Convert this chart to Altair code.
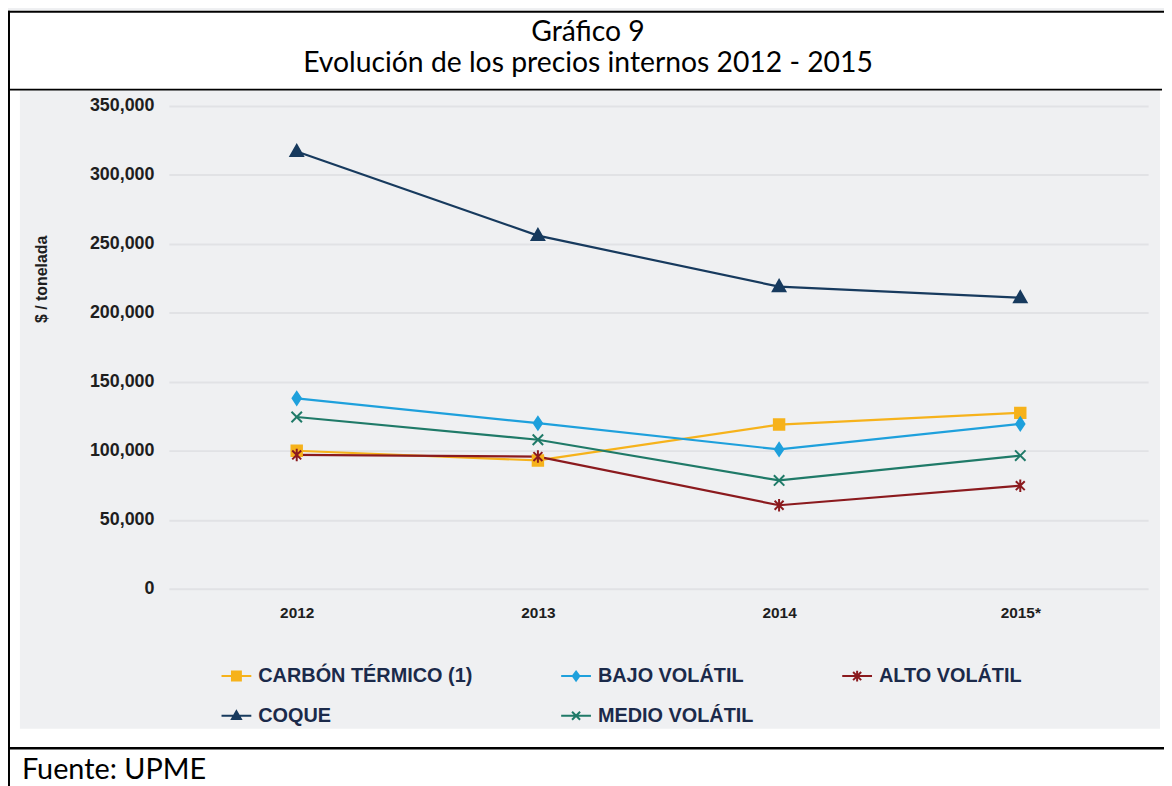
import altair as alt
import pandas as pd

# ---------------- data ----------------
years = ["2012", "2013", "2014", "2015*"]
series = ["CARBÓN TÉRMICO (1)", "BAJO VOLÁTIL", "ALTO VOLÁTIL", "COQUE", "MEDIO VOLÁTIL"]
carbon_termico = [100000, 93000, 119000, 127500]
bajo_volatil = [138000, 120000, 101000, 119500]
alto_volatil = [97000, 95800, 60500, 74700]
coque = [317000, 256000, 219000, 211000]
medio_volatil = [124500, 108000, 78500, 96500]
y_ticks = [0, 50000, 100000, 150000, 200000, 250000, 300000, 350000]

title_1 = "Gráfico 9"
title_2 = "Evolución de los precios internos 2012 - 2015"
source_text = "Fuente: UPME"
y_title = "$ / tonelada"

# ---------------- styles ----------------
colors = ["#f6b21b", "#1ea0dc", "#8b1a1e", "#173a5e", "#1f7a68"]
marker_paths = [
    "M-0.35,-0.35L0.35,-0.35L0.35,0.35L-0.35,0.35Z",          # square
    "M0,-0.42L0.28,0L0,0.42L-0.28,0Z",                         # diamond
    "M-0.3,-0.3L0.3,0.3M-0.3,0.3L0.3,-0.3M0,-0.42L0,0.42",     # asterisk
    "M0,-0.44L0.42,0.3L-0.42,0.3Z",                            # triangle
    "M-0.35,-0.35L0.35,0.35M-0.35,0.35L0.35,-0.35",            # x
]
legend_paths = [
    "M-1,0L1,0M-0.3,-0.3L0.3,-0.3L0.3,0.3L-0.3,0.3Z",
    "M-1,0L1,0M0,-0.3L0.22,0L0,0.3L-0.22,0Z",
    "M-1,0L1,0M-0.27,-0.27L0.27,0.27M-0.27,0.27L0.27,-0.27M0,-0.36L0,0.36",
    "M-1,0L1,0M0,-0.3L0.3,0.22L-0.3,0.22Z",
    "M-1,0L1,0M-0.27,-0.27L0.27,0.27M-0.27,0.27L0.27,-0.27",
]

values_by_series = [carbon_termico, bajo_volatil, alto_volatil, coque, medio_volatil]
rows = []
for s, vals in zip(series, values_by_series):
    for yr, v in zip(years, vals):
        rows.append({"year": yr, "serie": s, "valor": v})
df = pd.DataFrame(rows)

W, H = 986, 486
TEXT_DARK = "#1e1e1e"
NAVY = "#1b2a4a"
FONT_AX = "Liberation Sans"
FONT_DOC = "Lato"

x_enc = alt.X(
    "year:O",
    scale=alt.Scale(type="point", domain=years, padding=0.53),
    axis=alt.Axis(
        title=None, labelAngle=0, domain=False, ticks=False, grid=False,
        labelPadding=17, labelFontSize=15.5, labelFontWeight="bold",
        labelColor=TEXT_DARK, labelFont=FONT_AX,
    ),
)
y_enc = alt.Y(
    "valor:Q",
    scale=alt.Scale(domain=[0, 350000], nice=False, zero=True),
    axis=alt.Axis(
        values=y_ticks, format=",.0f", domain=False, ticks=False, grid=True,
        gridColor="#e1e2e5", gridWidth=2, labelPadding=15, labelFontSize=18,
        labelFontWeight="bold", labelColor=TEXT_DARK, labelFont=FONT_AX,
        title=y_title, titleFont=FONT_AX, titleFontSize=16, titleFontWeight="bold",
        titleColor=TEXT_DARK, titleX=-128, titleY=174, titleAngle=270,
        titleAlign="center", titleBaseline="middle",
    ),
)

base = alt.Chart(df)
one = alt.Chart(pd.DataFrame({"k": [0]}))

def rect(x1, x2, y1, y2, color):
    return one.mark_rect(color=color, clip=False).encode(
        x=alt.value(x1), x2=alt.value(x2), y=alt.value(y1), y2=alt.value(y2)
    )

# decoration (frame of the document table), plot-area pixel coordinates
deco = [
    rect(-162, 1002, -96, -16, "white"),     # title block
    rect(-162, -150, -16, 690, "white"),     # left strip
    rect(998, 1002, -16, 690, "white"),      # right strip
    rect(-162, 1002, 627, 690, "white"),     # bottom block
    rect(-162, 1002, -96, -94, "black"),     # top border
    rect(-162, 1000, -17.5, -15.5, "black"), # title separator
    rect(-162, -160, -96, 690, "black"),     # left border
    rect(-162, 1002, 645.5, 648, "black"),   # footer separator
]

texts = [
    one.mark_text(font=FONT_DOC, fontSize=28.5, color="black", align="center",
                  baseline="alphabetic").encode(
        x=alt.value(422), y=alt.value(-65.5), text=alt.value(title_1)),
    one.mark_text(font=FONT_DOC, fontSize=28.5, color="black", align="center",
                  baseline="alphabetic").encode(
        x=alt.value(422), y=alt.value(-34), text=alt.value(title_2)),
    one.mark_text(font=FONT_DOC, fontSize=29, color="black", align="left",
                  baseline="alphabetic").encode(
        x=alt.value(-148), y=alt.value(677.5), text=alt.value(source_text)),
]

lines = []
markers = []
for s, c, p in zip(series, colors, marker_paths):
    sub = base.transform_filter(alt.datum.serie == s)
    lines.append(sub.mark_line(strokeWidth=2.2, color=c).encode(x=x_enc, y=y_enc))
    markers.append(
        sub.mark_point(shape=p, filled=True, fill=c, stroke=c, size=900,
                       strokeWidth=2, opacity=1).encode(x=x_enc, y=y_enc)
    )

col_scale = alt.Scale(domain=series, range=colors)
leg = alt.Legend(
    title=None, orient="none", legendX=52, legendY=558, direction="horizontal",
    columns=3, columnPadding=85, rowPadding=14, padding=0, labelOffset=6,
    labelFont=FONT_AX, labelFontSize=20, labelFontWeight="bold", labelColor=NAVY,
    symbolSize=900, symbolStrokeWidth=2, symbolOpacity=1, labelLimit=400,
)
legend_layer = base.mark_point(filled=True, size=900, strokeWidth=2, opacity=1, clip=True).encode(
    x=x_enc,
    y=alt.value(2000),
    fill=alt.Fill("serie:N", scale=col_scale, legend=leg),
    stroke=alt.Stroke("serie:N", scale=col_scale, legend=leg),
    shape=alt.Shape("serie:N", scale=alt.Scale(domain=series, range=legend_paths), legend=leg),
)

chart = alt.layer(*deco, *texts, *lines, *markers, legend_layer).properties(
    width=W, height=H,
    background="#eff0f2",
    padding={"left": 162, "top": 96, "right": 16, "bottom": 196},
    autosize=alt.AutoSizeParams(type="none"),
).configure_view(stroke=None)

chart.save("out.html", embed_options={"renderer": "svg", "actions": False})
